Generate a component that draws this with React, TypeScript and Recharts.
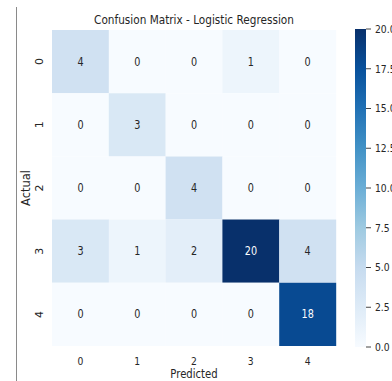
import { Bar, BarChart, Cell, LabelList, XAxis, YAxis } from "recharts";

const classes = ["0", "1", "2", "3", "4"];
const matrix = [
  [4, 0, 0, 1, 0],
  [0, 3, 0, 0, 0],
  [0, 0, 4, 0, 0],
  [3, 1, 2, 20, 4],
  [0, 0, 0, 0, 18],
];
const colorbarTicks = [0, 2.5, 5, 7.5, 10, 12.5, 15, 17.5, 20];
const VMAX = 20;

const FONT = "'DejaVu Sans', sans-serif";
const TEXT = "#262626";
// the source image is squeezed horizontally
const SQUISH = 0.84;

// matplotlib "Blues" anchors
const BLUES = [
  "#f7fbff",
  "#deebf7",
  "#c6dbef",
  "#9ecae1",
  "#6baed6",
  "#4292c6",
  "#2171b5",
  "#08519c",
  "#08306b",
];

function hexToRgb(h: string) {
  return [1, 3, 5].map((i) => parseInt(h.slice(i, i + 2), 16));
}

function blues(v: number) {
  const t = Math.max(0, Math.min(1, v / VMAX)) * (BLUES.length - 1);
  const i = Math.min(BLUES.length - 2, Math.floor(t));
  const f = t - i;
  const a = hexToRgb(BLUES[i]);
  const b = hexToRgb(BLUES[i + 1]);
  const c = a.map((x, k) => Math.round(x + (b[k] - x) * f));
  return `rgb(${c[0]},${c[1]},${c[2]})`;
}

const squishAt = (x: number, y: number) =>
  `translate(${x} ${y}) scale(${SQUISH} 1) translate(${-x} ${-y})`;

// one row per column, each actual class stacked as one unit-high cell
const table = classes.map((c) => {
  const row: Record<string, number | string> = { col: c };
  classes.forEach((_, r) => (row[`r${r}`] = 1));
  return row;
});

const YTick = (props: any) => {
  const { x, y, payload } = props;
  const label = classes[Math.floor(payload.value)];
  const tx = x - 1;
  return (
    <text
      x={tx}
      y={y}
      transform={`rotate(-90 ${tx} ${y})`}
      textAnchor="middle"
      fontSize={11}
      fontFamily={FONT}
      fill={TEXT}
    >
      {label}
    </text>
  );
};

const XTick = (props: any) => {
  const { x, y, payload } = props;
  return (
    <text
      x={x}
      y={y + 11}
      transform={squishAt(x, y)}
      textAnchor="middle"
      fontSize={11}
      fontFamily={FONT}
      fill={TEXT}
    >
      {payload.value}
    </text>
  );
};

const BarTick = (props: any) => {
  const { x, y, payload } = props;
  const tx = x + 2;
  return (
    <text
      x={tx}
      y={y + 4}
      transform={squishAt(tx, y)}
      textAnchor="start"
      fontSize={11}
      fontFamily={FONT}
      fill={TEXT}
    >
      {Number(payload.value).toFixed(1)}
    </text>
  );
};

function cellLabel(r: number) {
  return (props: any) => {
    const { x, y, width, height, index } = props;
    const v = matrix[r][index];
    const cx = x + width / 2;
    const cy = y + height / 2;
    return (
      <text
        x={cx}
        y={cy + 4}
        transform={squishAt(cx, cy)}
        textAnchor="middle"
        fontSize={11.5}
        fontFamily={FONT}
        fill={v > VMAX / 2 ? "#ffffff" : TEXT}
      >
        {v}
      </text>
    );
  };
}

export default function App() {
  return (
    <div
      style={{
        position: "absolute",
        left: 0,
        top: 0,
        width: 392,
        height: 381,
        background: "#ffffff",
        overflow: "hidden",
        fontFamily: FONT,
      }}
    >
      <div
        style={{
          position: "absolute",
          left: 16,
          top: 7,
          width: 1,
          height: 374,
          background: "#8a8a8a",
        }}
      />
      <div style={{ position: "absolute", left: 0, top: 0 }}>
        <BarChart
          width={392}
          height={381}
          data={table}
          margin={{ top: 30, right: 56, bottom: 15, left: 20 }}
          barCategoryGap={0}
        >
          <XAxis
            dataKey="col"
            axisLine={false}
            tickLine={false}
            height={20}
            tick={<XTick />}
          />
          <YAxis
            type="number"
            domain={[0, 5]}
            ticks={[0.5, 1.5, 2.5, 3.5, 4.5]}
            reversed
            axisLine={false}
            tickLine={false}
            width={32}
            tick={<YTick />}
          />
          {classes.map((_, r) => (
            <Bar
              key={r}
              dataKey={`r${r}`}
              stackId="m"
              isAnimationActive={false}
            >
              {classes.map((_, c) => (
                <Cell key={c} fill={blues(matrix[r][c])} />
              ))}
              <LabelList content={cellLabel(r)} />
            </Bar>
          ))}
        </BarChart>
      </div>
      <div style={{ position: "absolute", left: 0, top: 0 }}>
        <BarChart
          width={392}
          height={381}
          data={[{ v: VMAX }]}
          margin={{ top: 29, right: 0, bottom: 34, left: 355 }}
          barCategoryGap={0}
        >
          <defs>
            <linearGradient id="cbar" x1="0" y1="1" x2="0" y2="0">
              {BLUES.map((c, i) => (
                <stop key={i} offset={i / (BLUES.length - 1)} stopColor={c} />
              ))}
            </linearGradient>
          </defs>
          <XAxis hide />
          <YAxis
            orientation="right"
            type="number"
            domain={[0, VMAX]}
            ticks={colorbarTicks}
            width={26}
            axisLine={false}
            tickSize={5}
            tickLine={{ stroke: "#444" }}
            tick={<BarTick />}
          />
          <Bar dataKey="v" fill="url(#cbar)" isAnimationActive={false} />
        </BarChart>
      </div>
      <div
        style={{
          position: "absolute",
          left: 52,
          width: 284,
          top: 12,
          textAlign: "center",
          fontSize: 12.5,
          color: TEXT,
          whiteSpace: "nowrap",
          transform: `scaleX(${SQUISH})`,
        }}
      >
        Confusion Matrix - Logistic Regression
      </div>
      <div
        style={{
          position: "absolute",
          left: 52,
          width: 284,
          top: 367,
          textAlign: "center",
          fontSize: 12,
          color: TEXT,
          transform: `scaleX(${SQUISH})`,
        }}
      >
        Predicted
      </div>
      <div
        style={{
          position: "absolute",
          left: 26,
          top: 188,
          transform: "translate(-50%, -50%) rotate(-90deg)",
          fontSize: 11.5,
          color: TEXT,
          whiteSpace: "nowrap",
        }}
      >
        Actual
      </div>
    </div>
  );
}
